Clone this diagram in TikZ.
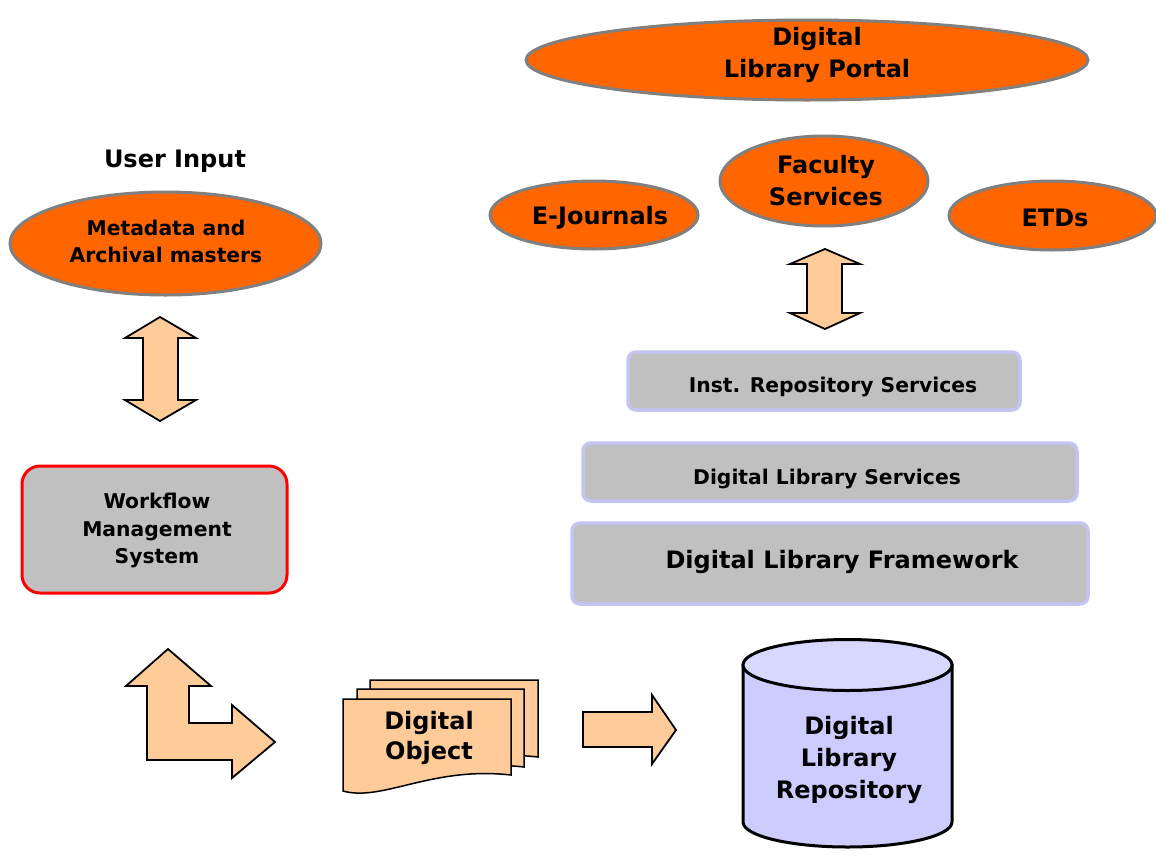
\documentclass[tikz,border=0pt]{standalone}
\usepackage{fontspec}
\setmainfont{DejaVu Sans}
\usetikzlibrary{shapes.geometric}
\definecolor{orng}{HTML}{FF6600}
\definecolor{peach}{HTML}{FFCC99}
\definecolor{boxgray}{HTML}{C0C0C0}
\definecolor{lav}{HTML}{C4C4F2}
\definecolor{cylfill}{HTML}{CCCCFF}
\definecolor{cyltop}{HTML}{D8D8FF}
\definecolor{ellborder}{HTML}{808080}
\tikzset{
  ell/.style={ellipse, draw=ellborder, fill=orng, line width=3pt, inner sep=0pt},
  bigtxt/.style={font=\fontsize{24}{32}\selectfont\bfseries, align=center, inner sep=0pt, yshift=-3pt},
  smtxt/.style={font=\fontsize{20.3}{27.5}\selectfont\bfseries, align=center, inner sep=0pt, yshift=-3pt},
  layerbox/.style={draw=lav, fill=boxgray, line width=3.5pt, rounded corners=8pt},
  blockarrow/.style={draw=black, fill=peach, line width=1.8pt, line join=miter},
  page/.style={draw=black, fill=peach, line width=1.5pt}
}
\begin{document}
\begin{tikzpicture}[x=1pt, y=-1pt]
\useasboundingbox (0,0) rectangle (1156,857);

% top ellipses
\node[ell, minimum width=562pt, minimum height=80pt] (portal) at (807,60) {};
\node[bigtxt] (portaltxt) at (817,52) {Digital\\Library Portal};
\node[ell, minimum width=208pt, minimum height=90pt] (faculty) at (824,181) {};
\node[bigtxt] (facultytxt) at (826,178) {Faculty\\Services};
\node[ell, minimum width=208pt, minimum height=68pt] (ejournals) at (594,215) {};
\node[bigtxt] (ejournalstxt) at (600,215) {E-Journals};
\node[ell, minimum width=207pt, minimum height=69pt] (etds) at (1052.5,215.5) {};
\node[bigtxt] (etdstxt) at (1055,215) {ETDs};

% user input
\node[bigtxt] (userinput) at (175,158) {User Input};
\node[ell, minimum width=311pt, minimum height=103pt] (metadata) at (165.5,243.5) {};
\node[smtxt] (metadatatxt) at (166,238.5) {Metadata and\\Archival masters};

% left double arrow
\draw[blockarrow] (160,317) -- (196,338) -- (178,338) -- (178,400) -- (196,400) -- (160,421)
  -- (125,400) -- (143,400) -- (143,338) -- (125,338) -- cycle;

% right double arrow
\draw[blockarrow] (825,249) -- (860,264) -- (842,264) -- (842,313) -- (860,313) -- (825,329)
  -- (790,313) -- (807,313) -- (807,264) -- (790,264) -- cycle;

% layer boxes
\draw[layerbox] (628,352) rectangle (1020,410);
\node[smtxt] (inst) at (833,384) {Inst. Repository Services};
\draw[layerbox] (583,443) rectangle (1077,501);
\node[smtxt] (dls) at (827,476) {Digital Library Services};
\draw[layerbox] (572,523) rectangle (1088,604);
\node[bigtxt] (dlf) at (842,559) {Digital Library Framework};

% workflow
\draw[draw=red, fill=boxgray, line width=3pt, rounded corners=18pt] (22,466) rectangle (287,593);
\node[smtxt] (workflow) at (157,527.5) {Workflow\\Management\\System};

% L arrow
\draw[blockarrow] (168,649) -- (211,686) -- (189,686) -- (189,723) -- (232,723) -- (232,705)
  -- (275,742) -- (232,778) -- (232,760) -- (147,760) -- (147,686) -- (126,686) -- cycle;

% multidocument
\draw[page] (370,680) -- (538,680) -- (538,757) .. controls (460,748) and (410,784) .. (370,773) -- cycle;
\draw[page] (357,689) -- (524,689) -- (524,767) .. controls (446,758) and (396,794) .. (357,783) -- cycle;
\draw[page] (343,699) -- (511,699) -- (511,775) .. controls (432,766) and (382,802) .. (343,791) -- cycle;
\node[bigtxt, font=\fontsize{24}{30}\selectfont\bfseries] (dobj) at (429,735) {Digital\\Object};

% straight arrow
\draw[blockarrow] (583,712) -- (652,712) -- (652,695) -- (676,730) -- (652,764) -- (652,747) -- (583,747) -- cycle;

% cylinder
\draw[fill=cylfill, line width=3pt] (743,665) -- (743,822)
  .. controls (743,835.8) and (789.8,847) .. (847.5,847)
  .. controls (905.2,847) and (952,835.8) .. (952,822) -- (952,665) -- cycle;
\draw[fill=cyltop, line width=3pt] (847.5,665) ellipse [x radius=104.5pt, y radius=25.5pt];
\node[bigtxt] (repo) at (849,757) {Digital\\Library\\Repository};
\end{tikzpicture}
\end{document}
